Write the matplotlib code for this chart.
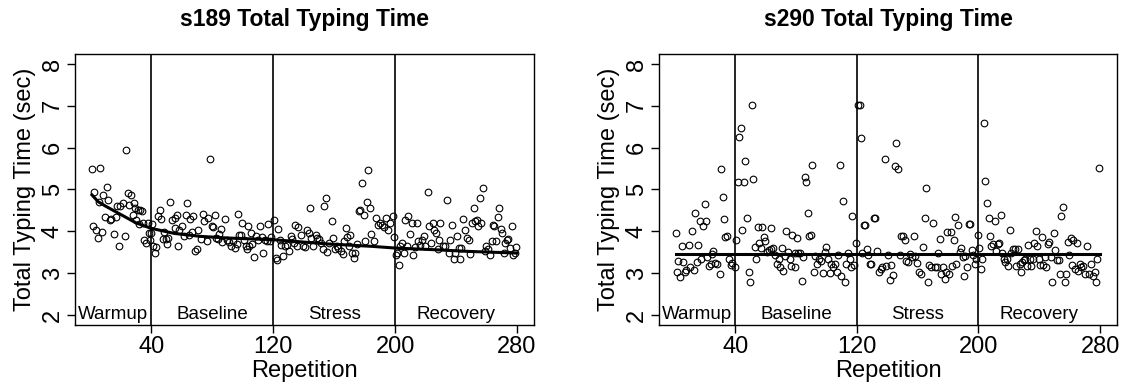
import matplotlib
matplotlib.use("Agg")
import matplotlib.pyplot as plt

plt.rcParams['font.family'] = ['Liberation Sans', 'DejaVu Sans']

# s189: repetition and total typing time (sec)
rep_189 = [1, 1.4, 2.5, 3.8, 4.7, 5.6, 6.5, 7.3, 8.4, 9.5, 10.6, 11.7, 12.6, 13.7, 15.7, 16.6, 17.4, 18.5, 19.6, 21.4,
           22.5, 23.4, 24.5, 25.5, 26.4, 27.7, 28.4, 29.5, 30.0, 31.0, 32.0, 32.3, 33.7, 34.3, 35.4, 36.5, 37.8, 38.3, 39.4, 39.8,
           40.5, 40.9, 42.4, 43.3, 44.4, 45.5, 46.4, 47.5, 48.6, 49.5, 50.5, 51.2, 52.5, 53.8, 55.2, 55.6, 56.5, 57.6, 58.2, 60.2,
           61.3, 62.4, 63.5, 64.4, 65.3, 66.4, 67.4, 68.8, 69.7, 70.5, 72.5, 73.6, 74.8, 76.2, 77.3, 78.4, 79.5, 80.4, 81.5, 82.4,
           83.4, 84.4, 85.4, 86.5, 88.5, 89.4, 90.9, 92.0, 93.7, 94.6, 95.9, 96.6, 97.5, 98.6, 99.7, 100.8, 101.9, 102.5, 103.4, 104.3,
           105.2, 106.2, 107.3, 108.7, 110.0, 111.5, 112.4, 113.5, 114.6, 115.7, 116.6, 117.7, 118.7, 120.5, 121.6, 122.7, 123.4, 124.4, 125.3, 126.6,
           127.5, 128.8, 130.4, 131.5, 132.6, 133.7, 134.5, 135.4, 136.3, 138.5, 139.4, 140.7, 142.4, 143.5, 144.4, 145.1, 146.4, 147.9, 149.0, 150.3,
           151.2, 152.5, 153.4, 154.3, 155.2, 156.5, 158.4, 159.5, 160.4, 161.7, 162.8, 164.4, 165.5, 166.6, 167.7, 168.7, 169.8, 170.5, 171.6, 172.7,
           173.8, 174.7, 176.0, 177.1, 178.4, 179.3, 180.4, 181.5, 182.3, 183.2, 184.3, 186.3, 187.4, 188.5, 190.0, 191.5, 192.9, 194.0, 195.1, 196.4,
           198.3, 199.4, 200.3, 201.2, 202.3, 203.4, 204.5, 205.6, 206.5, 207.8, 208.7, 209.5, 210.9, 211.7, 213.0, 214.4, 215.2, 216.5, 217.4, 218.7,
           219.6, 221.4, 222.5, 223.6, 224.7, 225.8, 226.9, 228.0, 228.8, 229.7, 231.2, 232.8, 234.1, 235.2, 236.3, 237.4, 238.5, 239.4, 240.5, 241.6,
           242.4, 243.3, 244.6, 245.9, 247.0, 248.3, 249.4, 250.3, 251.6, 252.5, 253.8, 254.7, 255.6, 256.5, 257.6, 258.7, 259.5, 260.8, 262.2, 263.5,
           264.3, 265.2, 266.1, 267.4, 268.5, 269.2, 270.3, 271.4, 272.3, 273.6, 274.4, 275.5, 276.4, 277.3, 278.4, 279.5]
time_189 = [5.50, 4.12, 4.95, 4.02, 3.84, 4.69, 5.51, 3.99, 4.86, 4.34, 5.05, 4.74, 4.26, 4.30, 3.93, 4.34, 4.60, 3.65, 4.60, 4.67,
            3.89, 5.95, 4.91, 4.62, 4.87, 4.40, 4.67, 4.56, 4.28, 4.52, 4.18, 4.50, 4.49, 4.21, 3.80, 3.72, 4.21, 3.97, 3.80, 3.97,
            4.18, 3.64, 3.49, 3.62, 4.37, 4.52, 4.29, 3.81, 3.99, 3.81, 3.69, 3.84, 4.71, 4.26, 4.32, 4.08, 4.39, 3.65, 4.04, 4.13,
            3.88, 4.40, 4.67, 3.92, 4.29, 3.99, 4.37, 3.52, 3.57, 4.04, 3.81, 4.42, 4.24, 3.78, 4.32, 5.73, 4.12, 4.10, 4.38, 3.84,
            3.82, 3.93, 4.05, 3.75, 4.30, 3.80, 3.74, 3.65, 3.76, 3.60, 3.70, 4.42, 3.92, 3.92, 4.20, 3.80, 3.65, 3.57, 4.13, 3.65,
            3.97, 3.69, 3.38, 3.88, 3.80, 4.12, 3.86, 3.48, 3.80, 3.77, 4.18, 3.76, 3.86, 4.28, 3.36, 3.32, 4.05, 3.80, 3.68, 3.40,
            3.64, 3.68, 3.54, 3.89, 3.81, 3.73, 4.16, 3.64, 4.10, 3.92, 3.65, 3.62, 4.04, 3.97, 4.56, 3.84, 3.65, 3.92, 3.84, 3.81,
            3.73, 3.57, 4.61, 4.79, 3.51, 3.72, 4.24, 3.84, 3.57, 3.65, 3.60, 3.52, 3.46, 3.78, 4.08, 3.86, 3.64, 3.92, 3.49, 3.36,
            3.48, 3.70, 4.48, 4.52, 5.15, 4.40, 3.76, 4.69, 5.47, 4.56, 3.93, 3.76, 4.32, 4.16, 4.20, 4.16, 4.10, 4.32, 4.04, 4.20,
            4.37, 3.86, 3.44, 3.48, 3.20, 3.64, 3.73, 3.48, 4.28, 3.65, 4.37, 3.94, 4.21, 3.44, 3.62, 4.21, 3.76, 3.68, 3.80, 3.88,
            3.65, 4.95, 4.13, 3.73, 4.21, 4.04, 3.97, 3.57, 3.80, 4.21, 3.64, 3.65, 4.74, 3.48, 3.80, 4.16, 3.34, 3.48, 3.88, 3.60,
            3.34, 3.60, 4.30, 4.04, 3.84, 3.80, 3.46, 4.20, 4.56, 4.24, 4.26, 4.12, 4.79, 4.20, 5.03, 3.52, 3.65, 3.57, 3.44, 3.76,
            4.16, 4.13, 3.76, 4.34, 4.56, 4.05, 3.97, 3.48, 3.73, 3.80, 3.81, 3.60, 4.12, 3.44, 3.49, 3.62]

# s189 fitted curve
fit_rep_189 = [1, 5, 10, 20, 30, 40, 55, 72, 90, 120, 155, 185, 200, 226, 248, 280]
fit_time_189 = [4.87, 4.71, 4.60, 4.40, 4.20, 4.07, 3.95, 3.88, 3.84, 3.80, 3.70, 3.64, 3.60, 3.56, 3.52, 3.48]

# s290
rep_290 = [1, 1.8, 2.3, 3.4, 4.9, 5.6, 6.7, 7.8, 9.3, 10.4, 11.5, 12.8, 13.7, 14.6, 15.7, 16.8, 17.6, 18.6, 19.8, 20.7,
           21.6, 22.7, 23.8, 24.6, 25.5, 26.8, 28.2, 29.7, 30.8, 31.7, 32.5, 33.4, 34.5, 35.6, 36.9, 38.0, 39.6, 40.7, 41.8, 42.6,
           43.5, 44.6, 45.7, 46.6, 47.9, 48.8, 49.7, 50.8, 51.6, 52.7, 53.8, 54.9, 55.8, 56.7, 57.8, 58.9, 59.7, 61.1, 61.9, 63.2,
           63.7, 64.8, 66.3, 67.7, 68.5, 69.4, 70.7, 71.6, 72.5, 73.6, 74.6, 75.8, 76.4, 77.5, 79.1, 79.5, 80.4, 81.2, 82.6, 83.6,
           84.7, 85.6, 86.5, 87.6, 88.7, 89.6, 90.7, 91.8, 92.2, 93.5, 94.8, 96.1, 97.7, 98.8, 99.6, 101.0, 102.1, 103.2, 104.0, 105.4,
           106.7, 107.5, 108.9, 109.7, 110.6, 111.9, 112.8, 114.1, 115.4, 115.9, 116.8, 118.1, 119.2, 120.7, 121.8, 122.7, 123.3, 124.6, 125.5, 126.4,
           127.3, 128.4, 129.5, 131.0, 132.1, 133.4, 134.5, 135.6, 136.7, 138.2, 139.1, 140.4, 141.5, 142.6, 143.7, 144.8, 145.7, 147.0, 148.1, 148.8,
           150.3, 151.4, 152.5, 153.6, 154.9, 156.2, 157.5, 158.4, 159.7, 160.6, 161.9, 163.5, 164.6, 165.7, 166.8, 167.6, 168.9, 169.8, 171.1, 172.5,
           173.3, 174.6, 175.5, 176.8, 177.7, 178.6, 179.5, 180.6, 181.7, 182.5, 183.9, 184.7, 185.4, 186.5, 187.6, 188.7, 189.6, 190.4, 191.3, 192.6,
           193.5, 194.6, 195.7, 196.6, 197.5, 198.5, 199.6, 200.5, 201.8, 202.5, 203.6, 204.5, 205.6, 206.7, 207.8, 208.4, 209.5, 210.6, 211.7, 212.8,
           213.7, 214.6, 215.7, 216.7, 217.6, 218.5, 219.4, 220.7, 221.6, 222.9, 223.8, 224.6, 226.0, 227.1, 227.7, 228.6, 229.9, 230.8, 231.7, 232.5,
           233.6, 234.7, 235.8, 236.5, 237.6, 238.7, 239.6, 240.7, 241.5, 242.6, 243.5, 244.6, 245.7, 246.4, 247.4, 248.5, 249.6, 250.5, 251.4, 252.7,
           253.6, 254.5, 255.6, 256.7, 257.6, 258.9, 259.7, 260.6, 261.5, 262.4, 263.3, 264.6, 265.5, 266.5, 267.6, 268.9, 270.3, 271.6, 272.7, 273.8,
           275.1, 276.4, 277.3, 278.2, 279.5]
time_290 = [3.95, 3.03, 3.29, 2.90, 3.66, 3.27, 3.03, 3.07, 3.67, 3.15, 4.01, 3.07, 4.43, 3.27, 3.67, 4.25, 3.33, 4.13, 4.65, 4.25,
            3.39, 3.17, 3.22, 3.46, 3.54, 3.25, 3.22, 2.97, 5.49, 4.83, 4.29, 3.87, 3.89, 3.33, 3.19, 3.25, 3.14, 3.79, 5.17, 6.25,
            6.47, 4.03, 5.19, 5.68, 4.31, 3.02, 2.79, 7.03, 5.24, 3.63, 3.34, 4.11, 3.71, 3.61, 4.11, 3.87, 3.77, 3.51, 3.55, 3.57,
            4.07, 3.59, 3.43, 3.22, 3.33, 3.15, 3.59, 3.05, 3.41, 4.01, 3.51, 3.33, 3.18, 3.91, 3.15, 3.49, 3.83, 3.49, 3.47, 2.81,
            3.39, 5.29, 5.18, 4.43, 3.89, 3.91, 5.59, 3.03, 3.42, 3.22, 3.33, 3.29, 3.01, 3.51, 3.63, 3.35, 3.01, 3.23, 3.14, 3.22,
            3.03, 3.43, 5.59, 2.93, 4.73, 2.79, 3.22, 3.49, 3.33, 3.15, 4.37, 3.19, 3.73, 7.03, 7.03, 6.23, 3.47, 4.14, 4.14, 3.57,
            3.43, 3.21, 3.21, 4.31, 4.31, 3.54, 3.03, 3.09, 3.15, 5.74, 3.17, 3.43, 2.83, 3.19, 2.95, 5.55, 6.10, 5.48, 3.43, 3.89,
            3.89, 3.79, 3.30, 3.27, 3.46, 3.39, 3.89, 3.41, 3.25, 3.03, 2.99, 3.63, 4.31, 5.03, 2.79, 3.19, 3.15, 4.19, 3.15, 3.15,
            3.49, 3.81, 2.99, 3.14, 2.87, 3.03, 3.99, 2.99, 3.99, 3.17, 3.79, 4.35, 3.22, 4.15, 3.51, 3.61, 3.39, 2.93, 3.41, 3.14,
            4.17, 4.17, 3.55, 3.43, 3.23, 3.35, 3.91, 3.61, 3.09, 3.33, 6.58, 5.21, 4.67, 4.33, 3.89, 3.66, 3.70, 4.25, 3.54, 3.70,
            3.73, 4.40, 3.49, 3.33, 3.27, 3.33, 3.18, 4.03, 3.49, 3.57, 3.57, 3.18, 3.57, 3.23, 3.03, 3.27, 3.31, 3.33, 3.18, 3.67,
            3.33, 3.18, 3.33, 3.73, 4.01, 3.66, 3.33, 3.19, 3.87, 3.19, 3.39, 3.15, 3.70, 3.75, 3.39, 2.79, 3.97, 3.55, 3.31, 3.31,
            2.98, 4.37, 4.57, 2.79, 2.98, 3.75, 3.43, 3.85, 3.19, 3.79, 3.11, 3.71, 3.06, 3.22, 3.14, 3.18, 2.99, 3.65, 2.99, 3.23,
            2.93, 3.03, 2.79, 3.33, 5.51]

# s290 flat fitted line
fit_rep_290 = [1, 280]
fit_time_290 = [3.46, 3.46]

phase_bounds = [40, 120, 200]
phase_names = ["Warmup", "Baseline", "Stress", "Recovery"]
phase_label_x = [15, 80, 160, 240]
x_ticks = [40, 120, 200, 280]
y_ticks = [2, 3, 4, 5, 6, 7, 8]

fig = plt.figure(figsize=(11.24, 3.87), dpi=100)
panels = [
    ([0.0667, 0.1602, 0.4084, 0.7003], "s189 Total Typing Time", rep_189, time_189, fit_rep_189, fit_time_189),
    ([0.5863, 0.1602, 0.4075, 0.7003], "s290 Total Typing Time", rep_290, time_290, fit_rep_290, fit_time_290),
]

for rect, title, reps, times, frep, ftime in panels:
    ax = fig.add_axes(rect)
    ax.plot(reps, times, linestyle='none', marker='o', markersize=4.8,
            markerfacecolor='none', markeredgecolor='black', markeredgewidth=0.8)
    ax.plot(frep, ftime, color='black', linewidth=2.2)
    for b in phase_bounds:
        ax.axvline(b, color='black', linewidth=1.2)
    for name, lx in zip(phase_names, phase_label_x):
        ax.text(lx, 2.0, name, ha='center', va='center', fontsize=13.5)
    ax.set_xlim(-10.16, 291.16)
    ax.set_ylim(1.76, 8.24)
    ax.set_xticks(x_ticks)
    ax.set_yticks(y_ticks)
    ax.tick_params(axis='both', direction='out', length=6, width=1, labelsize=17, colors='black', pad=2)
    for lab in ax.get_yticklabels():
        lab.set_rotation(90)
        lab.set_va('center')
    for s in ax.spines.values():
        s.set_linewidth(1.0)
    ax.set_title(title, fontweight='bold', fontsize=16.5, pad=20)
    ax.set_xlabel("Repetition", fontsize=17, labelpad=1)
    ax.set_ylabel("Total Typing Time (sec)", fontsize=17, labelpad=4)

fig.savefig("out.png", dpi=100)
